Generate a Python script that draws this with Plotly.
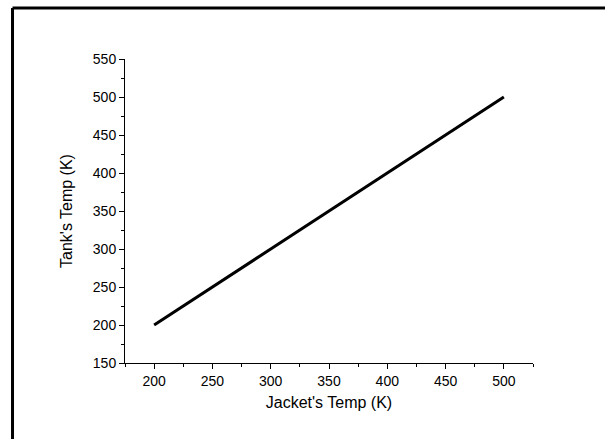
import plotly.graph_objects as go

# Jacket temperature vs tank temperature (K)
jacket_temp = [200, 250, 300, 350, 400, 450, 500]
tank_temp = [200, 250, 300, 350, 400, 450, 500]

x_ticks = [200, 250, 300, 350, 400, 450, 500]
y_ticks = [150, 200, 250, 300, 350, 400, 450, 500, 550]

FONT = "Liberation Sans, Arial, sans-serif"

fig = go.Figure()
fig.add_trace(go.Scatter(
    x=jacket_temp, y=tank_temp, mode="lines",
    line=dict(color="black", width=3),
    showlegend=False,
))

axis_common = dict(
    showline=True, linecolor="black", linewidth=1,
    ticks="outside", ticklen=5, tickwidth=1, tickcolor="black",
    showgrid=False, zeroline=False, mirror=False,
    tickfont=dict(family=FONT, size=14, color="black"),
)

fig.update_xaxes(
    range=[175, 525], tickvals=x_ticks,
    minor=dict(ticks="outside", ticklen=3, tickwidth=1, tickcolor="black",
               tick0=175, dtick=25, showgrid=False),
    title=dict(text="Jacket's Temp (K)", font=dict(family=FONT, size=16, color="black"),
               standoff=9),
    **axis_common,
)
fig.update_yaxes(
    range=[150, 550], tickvals=y_ticks,
    minor=dict(ticks="outside", ticklen=3, tickwidth=1, tickcolor="black",
               tick0=175, dtick=25, showgrid=False),
    title=dict(text="Tank's Temp (K)", font=dict(family=FONT, size=16, color="black"),
               standoff=16),
    **axis_common,
)

# Frame lines along the top and left of the page
fig.add_shape(type="line", xref="paper", yref="paper",
              x0=-0.2757, x1=1.25, y0=1.168, y1=1.168,
              line=dict(color="black", width=3))
fig.add_shape(type="line", xref="paper", yref="paper",
              x0=-0.2757, x1=-0.2757, y0=1.168, y1=-0.35,
              line=dict(color="black", width=3))

fig.update_layout(
    width=605, height=439,
    margin=dict(l=125, r=72, t=59, b=76),
    paper_bgcolor="white", plot_bgcolor="white",
    font=dict(family=FONT, color="black"),
)

fig.write_html("out.html")
